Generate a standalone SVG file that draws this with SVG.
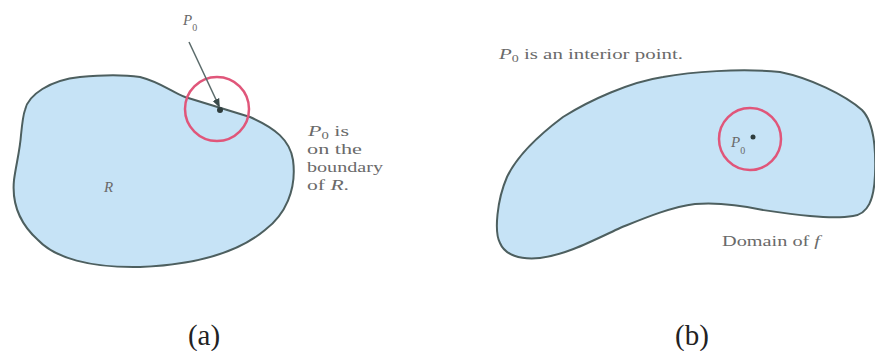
<svg xmlns="http://www.w3.org/2000/svg" width="875" height="351" viewBox="0 0 875 351">
<defs>
<style>
.region{fill:#c6e3f6;stroke:#4d5f5f;stroke-width:2}
.nbhd{fill:none;stroke:#e0567a;stroke-width:2.5}
.lbl{font-family:"Liberation Serif",serif;font-size:15px;fill:#6a6a6a}
.it{font-style:italic}
.sub{font-size:10px;font-style:normal}
.cap{font-family:"Liberation Serif",serif;font-size:29px;fill:#222}
</style>
<marker id="ah" viewBox="0 0 10 10" refX="8" refY="5" markerWidth="6" markerHeight="6" orient="auto">
<path d="M0,1 L10,5 L0,9 z" fill="#3a4a4a"/>
</marker>
</defs>
<g id="region-a">
<path class="region" d="M 25 110 C 28 95, 50 80, 80 77 C 100 75, 120 74, 140 77 C 160 82, 172 92, 185 97 L 250 117 C 275 128, 290 140, 293 160 C 297 190, 285 215, 265 230 C 235 255, 190 265, 140 267 C 90 268, 55 258, 38 240 C 18 222, 12 200, 14 180 C 16 165, 20 150, 21 135 C 22 125, 23 115, 25 110 Z"/>
<text class="lbl it" x="104" y="192" fill="#4e6a6a">R</text>
</g>
<g id="nbhd-a">
<circle class="nbhd" cx="217" cy="109" r="32"/>
<circle cx="220" cy="110" r="3" fill="#2f3d3d"/>
</g>
<g id="label-p0-a">
<text class="lbl it" x="183" y="25" font-size="17">P<tspan class="sub" dy="6" font-size="11">0</tspan></text>
</g>
<g id="label-boundary">
<text class="lbl" x="308" y="136" textLength="41" lengthAdjust="spacingAndGlyphs"><tspan class="it">P</tspan><tspan class="sub" dy="3">0</tspan><tspan dy="-3"> is</tspan></text>
<text class="lbl" x="307" y="154" textLength="55" lengthAdjust="spacingAndGlyphs">on the</text>
<text class="lbl" x="307" y="172" textLength="76" lengthAdjust="spacingAndGlyphs">boundary</text>
<text class="lbl" x="307" y="190" textLength="42" lengthAdjust="spacingAndGlyphs">of <tspan class="it">R</tspan>.</text>
</g>
<g id="region-b">
<path class="region" d="M 500 243 C 494 232, 497 200, 507 177 C 515 160, 535 138, 563 117 C 590 100, 630 82, 663 77 C 690 72, 740 68, 780 72 C 810 78, 845 95, 862 110 C 874 122, 876 150, 875 175 C 874 200, 868 214, 853 216 C 830 220, 790 214, 763 210 C 740 205, 720 202, 695 204 C 670 207, 640 220, 620 228 C 590 242, 565 255, 540 258 C 520 260, 505 255, 500 243 Z"/>
</g>
<g id="nbhd-b">
<circle class="nbhd" cx="750" cy="139" r="31"/>
<circle cx="753" cy="137" r="2.5" fill="#2f3d3d"/>
<text class="lbl it" x="731" y="147" fill="#3d5a5a" font-size="16">P<tspan class="sub" dy="7" font-size="11">0</tspan></text>
</g>
<g id="label-interior">
<text class="lbl" x="499" y="59" textLength="184" lengthAdjust="spacingAndGlyphs"><tspan class="it">P</tspan><tspan class="sub" dy="3">0</tspan><tspan dy="-3"> is an interior point.</tspan></text>
</g>
<g id="label-domain">
<text class="lbl" x="722" y="246" textLength="98" lengthAdjust="spacingAndGlyphs">Domain of <tspan class="it">f</tspan></text>
</g>
<g id="captions">
<text class="cap" x="204" y="345" text-anchor="middle">(a)</text>
<text class="cap" x="692" y="345" text-anchor="middle">(b)</text>
</g>
<g id="connectors">
<line x1="189" y1="42" x2="219" y2="106" stroke="#5a6a6a" stroke-width="1.5" marker-end="url(#ah)"/>
</g>
</svg>
